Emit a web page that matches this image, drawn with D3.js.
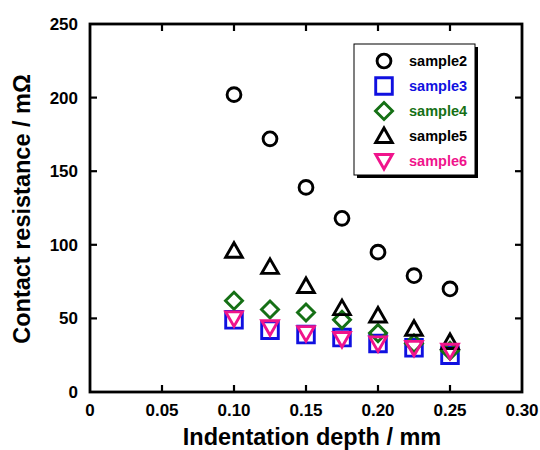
<!DOCTYPE html>
<meta charset="utf-8">
<style>
body { margin: 0; background: #fff; }
svg { display: block; font-family: 'Liberation Sans', Arial, sans-serif; font-weight: bold; }
</style>
<svg width="540" height="450"></svg>
<script src="https://d3js.org/d3.v7.min.js"></script>
<script>
// data
var depth = [0.100, 0.125, 0.150, 0.175, 0.200, 0.225, 0.250];
var sample2 = [202, 172, 139, 118, 95, 79, 70];
var sample3 = [49, 42, 39, 37, 33, 30, 25];
var sample4 = [62, 56, 54, 49, 40, 33, 28];
var sample5 = [96, 85, 72, 57, 52, 43, 34];
var sample6 = [50, 44, 40, 36, 33, 30, 28];
var xTicks = [0, 0.05, 0.10, 0.15, 0.20, 0.25, 0.30];
var xTickLabels = ["0", "0.05", "0.10", "0.15", "0.20", "0.25", "0.30"];
var yTicks = [0, 50, 100, 150, 200, 250];

var series = [
  {name: "sample2", values: sample2, shape: "circle",  color: "#000000"},
  {name: "sample3", values: sample3, shape: "square",  color: "#1010e0"},
  {name: "sample4", values: sample4, shape: "diamond", color: "#157015"},
  {name: "sample5", values: sample5, shape: "triUp",   color: "#000000"},
  {name: "sample6", values: sample6, shape: "triDown", color: "#f0148c"}
];

var svg = d3.select("svg");
var m = {left: 90, right: 522, top: 24, bottom: 392};

var x = d3.scaleLinear().domain([0, 0.30]).range([m.left, m.right]);
var y = d3.scaleLinear().domain([0, 250]).range([m.bottom, m.top]);

function shapePath(shape) {
  if (shape == "circle") return d3.symbol(d3.symbolCircle, 150)();
  if (shape == "square") return "M-8.3,-8.3H8.3V8.3H-8.3Z";
  if (shape == "diamond") return "M0,-8.5L8.5,0L0,8.5L-8.5,0Z";
  if (shape == "triUp") return "M0,-8L8.3,6.5L-8.3,6.5Z";
  return "M0,8L8.3,-6.5L-8.3,-6.5Z";
}

// ticks, all inward
var tickLen = 7;
var g = svg.append("g").attr("stroke", "#000").attr("stroke-width", 2.2);
xTicks.slice(1, -1).forEach(function(t) {
  g.append("line").attr("x1", x(t)).attr("x2", x(t)).attr("y1", m.bottom).attr("y2", m.bottom - tickLen);
  g.append("line").attr("x1", x(t)).attr("x2", x(t)).attr("y1", m.top).attr("y2", m.top + tickLen);
});
yTicks.slice(1, -1).forEach(function(t) {
  g.append("line").attr("y1", y(t)).attr("y2", y(t)).attr("x1", m.left).attr("x2", m.left + tickLen);
  g.append("line").attr("y1", y(t)).attr("y2", y(t)).attr("x1", m.right).attr("x2", m.right - tickLen);
});

// tick labels
svg.append("g").selectAll("text")
  .data(xTicks)
  .enter().append("text")
    .attr("x", function(d) { return x(d); })
    .attr("y", m.bottom + 24)
    .attr("text-anchor", "middle")
    .attr("font-size", 17)
    .text(function(d, i) { return xTickLabels[i]; });

svg.append("g").selectAll("text")
  .data(yTicks)
  .enter().append("text")
    .attr("x", m.left - 12)
    .attr("y", function(d) { return y(d) + 6; })
    .attr("text-anchor", "end")
    .attr("font-size", 17)
    .text(function(d) { return d; });

// axis titles
svg.append("text")
  .attr("x", (m.left + m.right) / 2 + 6)
  .attr("y", 445)
  .attr("text-anchor", "middle")
  .attr("font-size", 23.5)
  .text("Indentation depth / mm");

svg.append("text")
  .attr("transform", "translate(30,209) rotate(-90)")
  .attr("text-anchor", "middle")
  .attr("font-size", 23.5)
  .text("Contact resistance / m\u03A9");

// points
series.forEach(function(s) {
  svg.append("g").selectAll("path")
    .data(s.values)
    .enter().append("path")
      .attr("d", shapePath(s.shape))
      .attr("transform", function(d, i) { return "translate(" + x(depth[i]) + "," + y(d) + ")"; })
      .attr("fill", "none")
      .attr("stroke", s.color)
      .attr("stroke-width", 2.9);
});

// frame
svg.append("rect")
  .attr("x", m.left).attr("y", m.top)
  .attr("width", m.right - m.left).attr("height", m.bottom - m.top)
  .attr("fill", "none").attr("stroke", "#000").attr("stroke-width", 2.8);

// legend
var lg = svg.append("g").attr("transform", "translate(354,44)");
lg.append("rect").attr("x", 3).attr("y", 3).attr("width", 121).attr("height", 131).attr("fill", "#000");
lg.append("rect").attr("width", 121).attr("height", 131).attr("fill", "#fff").attr("stroke", "#000").attr("stroke-width", 1);
series.forEach(function(s, i) {
  var row = lg.append("g").attr("transform", "translate(0," + (17 + i * 25) + ")");
  row.append("path")
    .attr("d", shapePath(s.shape))
    .attr("transform", "translate(30,0)")
    .attr("fill", "none")
    .attr("stroke", s.color)
    .attr("stroke-width", 2.9);
  row.append("text")
    .attr("x", 55)
    .attr("y", 5)
    .attr("font-size", 14.5)
    .attr("fill", s.color)
    .text(s.name);
});
</script>
